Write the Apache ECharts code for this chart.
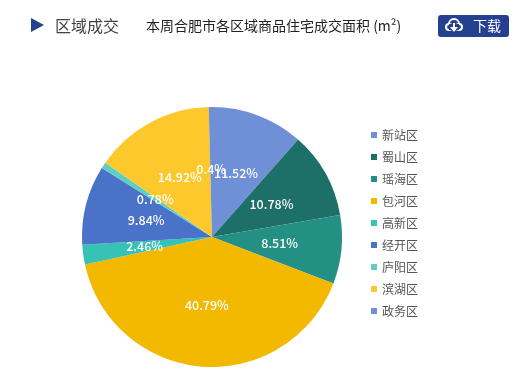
<!DOCTYPE html>
<html>
<head>
<meta charset="utf-8">
<style>
  html, body { margin: 0; padding: 0; background: #fff; }
  #main { width: 517px; height: 388px; }
</style>
<script src="https://cdn.jsdelivr.net/npm/echarts@6/dist/echarts.min.js"></script>
</head>
<body>
<div id="main"></div>
<script>
var areaNames = ['新站区', '蜀山区', '瑶海区', '包河区', '高新区', '经开区', '庐阳区', '滨湖区', '政务区'];
var areaValues = [11.52, 10.78, 8.51, 40.79, 2.46, 9.84, 0.78, 14.92, 0.4];
var areaColors = ['#6f8fd6', '#1d7068', '#239083', '#f3b900', '#36c2b4', '#4a72c9', '#5ccfc2', '#fdc82c', '#6f8fd6'];

var fontName = '"Noto Sans CJK SC", sans-serif';
var myChart = echarts.init(document.getElementById('main'));

var pieData = areaNames.map(function (name, i) {
    return { name: name, value: areaValues[i] };
});

// 标题文字
function headText(text, x, font, fill) {
    return { type: 'text', x: x, y: 26, style: { text: text, font: font, fill: fill, textVerticalAlign: 'middle' } };
}

var option = {
    color: areaColors,
    animation: false,
    textStyle: { fontFamily: fontName },
    graphic: [
        { type: 'polygon', shape: { points: [[31, 18], [44, 25], [31, 32]] }, style: { fill: '#24408e' } },
        headText('区域成交', 55, '16px ' + fontName, '#444'),
        headText('本周合肥市各区域商品住宅成交面积 (m²)', 146, '14px ' + fontName, '#222'),
        // 下载按钮
        { type: 'rect', shape: { x: 438, y: 15, width: 71, height: 22, r: 3 }, style: { fill: '#24408e' } },
        // 云图标
        { type: 'circle', shape: { cx: 454, cy: 24, r: 5 }, style: { fill: '#24408e', stroke: '#fff', lineWidth: 2 } },
        { type: 'circle', shape: { cx: 449, cy: 27, r: 3 }, style: { fill: '#24408e', stroke: '#fff', lineWidth: 2 } },
        { type: 'circle', shape: { cx: 459, cy: 27, r: 3 }, style: { fill: '#24408e', stroke: '#fff', lineWidth: 2 } },
        { type: 'rect', shape: { x: 449, y: 24, width: 10, height: 6 }, style: { fill: '#24408e' } },
        { type: 'polygon', shape: { points: [[453, 23], [455, 23], [455, 27], [458, 27], [454, 32], [450, 27], [453, 27]] }, style: { fill: '#fff' } },
        headText('下载', 473, '14px ' + fontName, '#fff')
    ],
    legend: {
        orient: 'vertical',
        left: 366,
        top: 123,
        itemWidth: 6,
        itemHeight: 6,
        itemGap: 8,
        icon: 'rect',
        textStyle: { color: '#555', fontSize: 12, padding: [0, 0, 0, 0], lineHeight: 14 }
    },
    series: [
        {
            type: 'pie',
            center: [212, 237],
            radius: 130,
            startAngle: 90,
            avoidLabelOverlap: false,
            data: pieData,
            label: {
                position: 'inner',
                color: '#fff',
                fontSize: 12.5,
                fontWeight: 500,
                formatter: function (p) { return p.value + '%'; }
            },
            labelLayout: { hideOverlap: false },
            labelLine: { show: false }
        }
    ]
};

myChart.setOption(option);
</script>
</body>
</html>
